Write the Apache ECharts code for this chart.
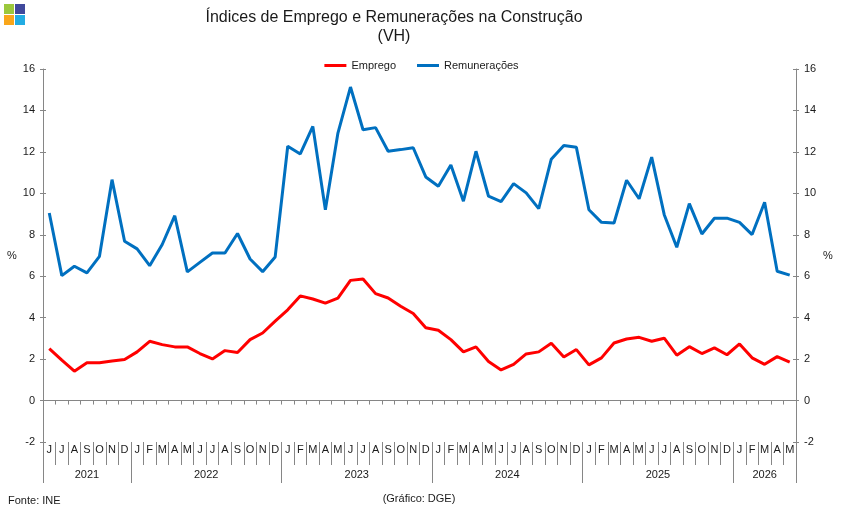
<!DOCTYPE html>
<html>
<head>
<meta charset="utf-8">
<script src="https://cdn.jsdelivr.net/npm/echarts@6/dist/echarts.min.js"></script>
<style>
  html, body { margin: 0; padding: 0; background: #fff; }
  #chart { width: 843px; height: 518px; }
</style>
</head>
<body>
<div id="chart"></div>
<script>
// Jun 2021 .. May 2026, monthly
const monthInitials = ['J', 'F', 'M', 'A', 'M', 'J', 'J', 'A', 'S', 'O', 'N', 'D']
const years = ['2021', '2022', '2023', '2024', '2025', '2026']
const monthsPerYear = [7, 12, 12, 12, 12, 5]

const emprego = [
  2.51, 1.95, 1.42, 1.82, 1.82, 1.91, 1.98,
  2.35, 2.86, 2.70, 2.59, 2.59, 2.27, 2.01, 2.41, 2.32, 2.94, 3.26, 3.83,
  4.38, 5.05, 4.90, 4.70, 4.94, 5.80, 5.87, 5.16, 4.95, 4.55, 4.20, 3.51,
  3.39, 2.94, 2.35, 2.59, 1.88, 1.48, 1.75, 2.25, 2.35, 2.77, 2.10, 2.46,
  1.72, 2.06, 2.78, 2.97, 3.05, 2.86, 3.01, 2.19, 2.60, 2.27, 2.54, 2.21,
  2.73, 2.06, 1.75, 2.12, 1.85
]
const remuneracoes = [
  9.05, 6.03, 6.48, 6.16, 6.96, 10.66, 7.69,
  7.32, 6.51, 7.53, 8.92, 6.21, 6.67, 7.12, 7.12, 8.06, 6.83, 6.22, 6.93,
  12.27, 11.90, 13.23, 9.21, 12.91, 15.13, 13.07, 13.17, 12.03, 12.11, 12.20, 10.79,
  10.34, 11.37, 9.62, 12.03, 9.86, 9.60, 10.47, 10.02, 9.26, 11.65, 12.31, 12.22,
  9.21, 8.60, 8.57, 10.63, 9.74, 11.75, 8.97, 7.40, 9.50, 8.04, 8.80, 8.80,
  8.60, 8.01, 9.57, 6.24, 6.05
]

const yTicks = { min: -2, max: 16, interval: 2 }

// categories built from the month/year lists
const categories = []
years.forEach((yr, k) => {
  const start = k === 0 ? 12 - monthsPerYear[0] : 0
  for (let m = start; m < start + monthsPerYear[k]; m++) {
    categories.push(monthInitials[m] + ' ' + yr)
  }
})
// year separators and label centres, in month units
const yearBounds = [0]
monthsPerYear.forEach(n => yearBounds.push(yearBounds[yearBounds.length - 1] + n))
const yearCentres = years.map((_, k) => (yearBounds[k] + yearBounds[k + 1]) / 2)

const FONT = "'Liberation Sans', Arial, sans-serif"
const AXIS_GREY = '#868686'
const TEXT = '#1a1a1a'

const chart = echarts.init(document.getElementById('chart'))

const valueAxisBase = {
  type: 'value',
  min: yTicks.min,
  max: yTicks.max,
  interval: yTicks.interval,
  splitLine: { show: false },
  axisLine: { show: true, onZero: false, lineStyle: { color: AXIS_GREY, width: 1 } },
  axisTick: { show: true, length: 3, lineStyle: { color: AXIS_GREY } },
  axisLabel: { color: TEXT, fontSize: 11, fontFamily: FONT, margin: 8 },
  nameLocation: 'middle',
  nameRotate: 0,
  nameTextStyle: { color: TEXT, fontSize: 11, fontFamily: FONT }
}

chart.setOption({
  animation: false,
  backgroundColor: '#fff',
  textStyle: { fontFamily: FONT },
  legend: {
    data: ['Emprego', 'Remunerações'],
    top: 55,
    left: 'center',
    icon: 'rect',
    itemWidth: 22,
    itemHeight: 3,
    itemGap: 21,
    textStyle: { color: TEXT, fontSize: 11, fontFamily: FONT }
  },
  grid: { left: 43, right: 47, top: 69, bottom: 76 },
  xAxis: [
    {
      // line at zero with the month ticks
      type: 'category',
      data: categories,
      position: 'bottom',
      axisLine: { show: true, onZero: true, onZeroAxisIndex: 0, lineStyle: { color: AXIS_GREY } },
      axisTick: { show: true, length: 4, interval: 0, lineStyle: { color: AXIS_GREY } },
      axisLabel: { show: false },
      splitLine: { show: false }
    },
    {
      // month initials with separators
      type: 'category',
      data: categories,
      position: 'bottom',
      axisLine: { show: false, onZero: false },
      axisTick: { show: true, length: 23, interval: 0, lineStyle: { color: AXIS_GREY } },
      axisLabel: {
        interval: 0,
        margin: 2,
        color: TEXT,
        fontSize: 11,
        fontFamily: FONT,
        formatter: v => v.charAt(0)
      },
      splitLine: { show: false }
    },
    {
      // year row
      type: 'value',
      min: 0,
      max: categories.length,
      position: 'bottom',
      axisLine: { show: false, onZero: false },
      axisTick: { show: true, length: 41, customValues: yearBounds, lineStyle: { color: AXIS_GREY } },
      axisLabel: {
        margin: 27,
        color: TEXT,
        fontSize: 11,
        fontFamily: FONT,
        customValues: yearCentres,
        formatter: v => years[yearCentres.indexOf(v)]
      },
      splitLine: { show: false }
    }
  ],
  yAxis: [
    Object.assign({}, valueAxisBase, { position: 'left', name: '%', nameGap: 25 }),
    Object.assign({}, valueAxisBase, { position: 'right', name: '%', nameGap: 27 }),
    Object.assign({}, valueAxisBase, {
      position: 'left',
      axisLine: { show: false, onZero: false },
      axisTick: { show: true, inside: true, length: 3, lineStyle: { color: AXIS_GREY } },
      axisLabel: { show: false }
    }),
    Object.assign({}, valueAxisBase, {
      position: 'right',
      axisLine: { show: false, onZero: false },
      axisTick: { show: true, inside: true, length: 3, lineStyle: { color: AXIS_GREY } },
      axisLabel: { show: false }
    })
  ],
  series: [
    {
      name: 'Emprego',
      type: 'line',
      data: emprego,
      symbol: 'none',
      color: '#ff0000',
      lineStyle: { width: 3, color: '#ff0000' },
      z: 3
    },
    {
      name: 'Remunerações',
      type: 'line',
      data: remuneracoes,
      symbol: 'none',
      color: '#0070c0',
      lineStyle: { width: 3, color: '#0070c0' },
      z: 2
    }
  ],
  graphic: [
    // logo
    { type: 'rect', shape: { x: 4, y: 4, width: 10, height: 10 }, style: { fill: '#9bc83c' } },
    { type: 'rect', shape: { x: 15, y: 4, width: 10, height: 10 }, style: { fill: '#40499c' } },
    { type: 'rect', shape: { x: 4, y: 15, width: 10, height: 10 }, style: { fill: '#f9a61a' } },
    { type: 'rect', shape: { x: 15, y: 15, width: 10, height: 10 }, style: { fill: '#22ace3' } },
    {
      type: 'text', x: 394, y: 18,
      style: { text: 'Índices de Emprego e Remunerações na Construção', textAlign: 'center', textVerticalAlign: 'middle', font: '16px ' + FONT, fill: TEXT }
    },
    {
      type: 'text', x: 394, y: 37,
      style: { text: '(VH)', textAlign: 'center', textVerticalAlign: 'middle', font: '16px ' + FONT, fill: TEXT }
    },
    {
      type: 'text', x: 8, y: 501,
      style: { text: 'Fonte: INE', textAlign: 'left', textVerticalAlign: 'middle', font: '11px ' + FONT, fill: TEXT }
    },
    {
      type: 'text', x: 419, y: 499,
      style: { text: '(Gráfico: DGE)', textAlign: 'center', textVerticalAlign: 'middle', font: '11px ' + FONT, fill: TEXT }
    }
  ]
})
</script>
</body>
</html>
